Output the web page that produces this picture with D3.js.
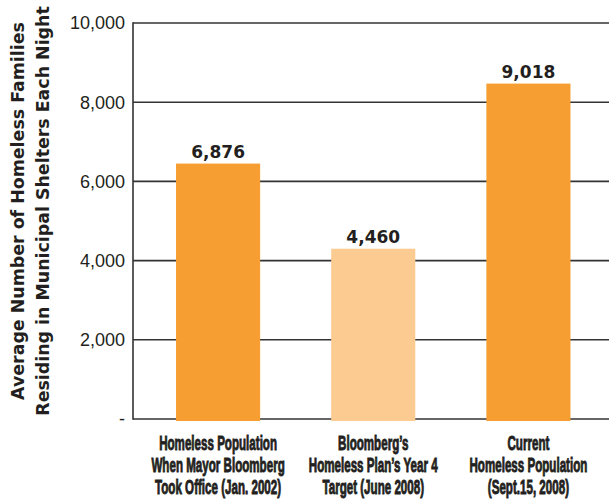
<!DOCTYPE html>
<html>
<head>
<meta charset="utf-8">
<script src="https://cdn.jsdelivr.net/npm/d3@7"></script>
<style>
  body { margin: 0; background: #fff; }
  svg { display: block; }
</style>
</head>
<body>
<svg id="chart" width="609" height="504"></svg>
<script>
'use strict';

// bar heights as drawn in the picture, and the labels printed above them
const categories = [
  ['Homeless Population', 'When Mayor Bloomberg', 'Took Office (Jan. 2002)'],
  ['Bloomberg\u2019s', 'Homeless Plan\u2019s Year 4', 'Target (June 2008)'],
  ['Current', 'Homeless Population', '(Sept.15, 2008)']
];
const barValues = [6450, 4300, 8470];
const valueLabels = ['6,876', '4,460', '9,018'];
const barColors = ['#f69e32', '#fccb92', '#f69e32'];
const yTicks = [0, 2000, 4000, 6000, 8000, 10000];
const yTickLabels = ['-', '2,000', '4,000', '6,000', '8,000', '10,000'];
const titleLines = [
  'Average Number of Homeless Families',
  'Residing in Municipal Shelters Each Night'
];

const svg = d3.select('#chart');
const plot = { left: 133, right: 609, top: 23, bottom: 419 };

const x = d3.scaleBand()
  .domain(d3.range(categories.length))
  .range([140.5, 606])
  .paddingInner(0.458)
  .paddingOuter(0.229);

const y = d3.scaleLinear()
  .domain([0, 10000])
  .range([plot.bottom, plot.top]);

// gridlines
svg.append('g')
  .selectAll('line')
  .data(yTicks)
  .enter()
  .append('line')
  .attr('x1', plot.left)
  .attr('x2', plot.right)
  .attr('y1', d => y(d))
  .attr('y2', d => y(d))
  .attr('stroke', '#333')
  .attr('stroke-width', 1.6);

// left axis line
svg.append('line')
  .attr('x1', plot.left).attr('x2', plot.left)
  .attr('y1', y(10000) - 0.8).attr('y2', y(0) + 0.8)
  .attr('stroke', '#333')
  .attr('stroke-width', 1.6);

// tick labels
svg.append('g')
  .selectAll('text')
  .data(yTicks)
  .enter()
  .append('text')
  .attr('x', plot.left - 8)
  .attr('y', d => y(d))
  .attr('dy', '0.35em')
  .attr('text-anchor', 'end')
  .attr('font-family', 'Liberation Sans, Arial, sans-serif')
  .attr('font-size', 18)
  .attr('fill', '#231f20')
  .text((d, i) => yTickLabels[i]);

// bars
svg.append('g')
  .selectAll('rect')
  .data(barValues)
  .enter()
  .append('rect')
  .attr('x', (d, i) => x(i))
  .attr('width', x.bandwidth())
  .attr('y', d => y(d))
  .attr('height', d => y(0) - y(d) + 2)
  .attr('fill', (d, i) => barColors[i]);

// value labels
svg.append('g')
  .selectAll('text')
  .data(barValues)
  .enter()
  .append('text')
  .attr('x', (d, i) => x(i) + x.bandwidth() / 2)
  .attr('y', d => y(d) - 6)
  .attr('text-anchor', 'middle')
  .attr('font-family', 'DejaVu Sans, sans-serif')
  .attr('font-weight', 'bold')
  .attr('font-size', 17)
  .attr('fill', '#231f20')
  .text((d, i) => valueLabels[i]);

// category labels, squeezed horizontally to mimic a compressed face
const catLabels = svg.append('g')
  .selectAll('text')
  .data(categories)
  .enter()
  .append('text')
  .attr('transform', (d, i) => `translate(${x(i) + x.bandwidth() / 2},0) scale(0.595,1)`)
  .attr('text-anchor', 'middle')
  .attr('font-family', 'Liberation Sans, Arial, sans-serif')
  .attr('font-weight', 'bold')
  .attr('font-size', 19.5)
  .attr('fill', '#231f20')
  .attr('stroke', '#231f20')
  .attr('stroke-width', 0.9);

catLabels.selectAll('tspan')
  .data(d => d)
  .enter()
  .append('tspan')
  .attr('x', 0)
  .attr('y', (d, j) => 450 + j * 22)
  .text(d => d);

// y axis title
svg.append('g')
  .attr('transform', 'translate(0,211) rotate(-90)')
  .selectAll('text')
  .data(titleLines)
  .enter()
  .append('text')
  .attr('x', 0)
  .attr('y', (d, i) => 23.5 + i * 25.5)
  .attr('text-anchor', 'middle')
  .attr('font-family', 'DejaVu Sans, sans-serif')
  .attr('font-weight', 'bold')
  .attr('font-size', 17.4)
  .attr('fill', '#231f20')
  .text(d => d);
</script>
</body>
</html>
